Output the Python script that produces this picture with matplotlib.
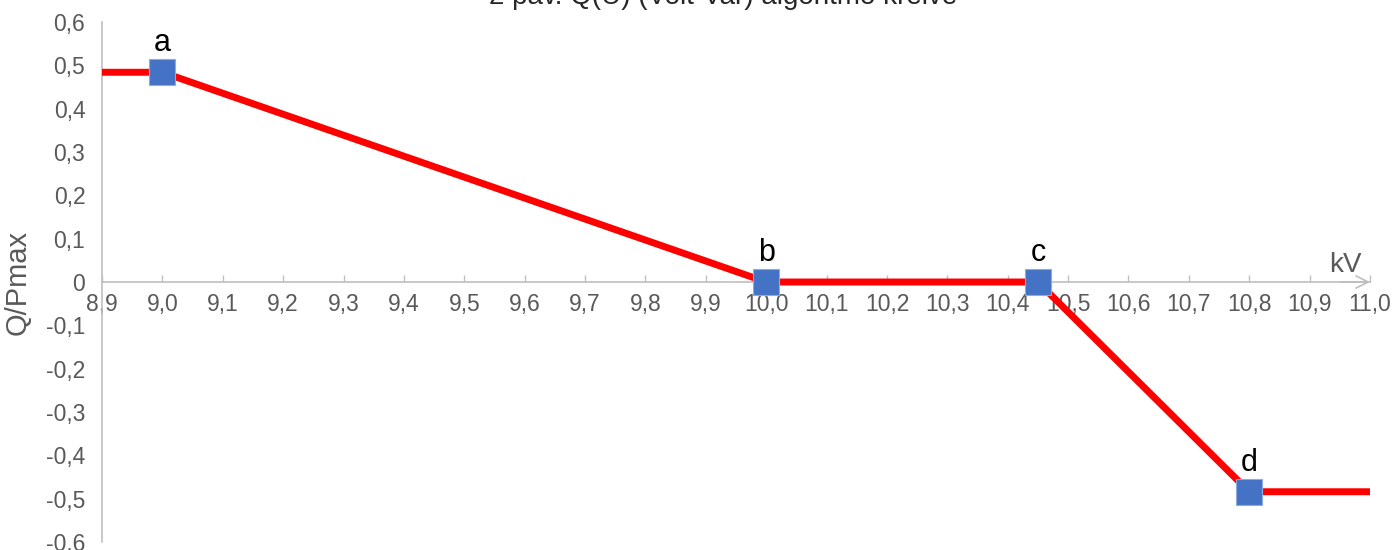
import matplotlib
matplotlib.use("Agg")
import matplotlib.pyplot as plt
from matplotlib.ticker import FixedLocator, FuncFormatter

plt.rcParams['font.family'] = ['Liberation Sans', 'DejaVu Sans']

# Data
curve_u = [8.9, 9.0, 10.0, 10.45, 10.8, 11.0]
curve_q = [0.484, 0.484, 0.0, 0.0, -0.484, -0.484]
point_u = [9.0, 10.0, 10.45, 10.8]
point_q = [0.484, 0.0, 0.0, -0.484]
point_labels = ['a', 'b', 'c', 'd']
x_ticks = [8.9, 9.0, 9.1, 9.2, 9.3, 9.4, 9.5, 9.6, 9.7, 9.8, 9.9, 10.0,
           10.1, 10.2, 10.3, 10.4, 10.5, 10.6, 10.7, 10.8, 10.9, 11.0]
y_ticks = [-0.6, -0.5, -0.4, -0.3, -0.2, -0.1, 0.0, 0.1, 0.2, 0.3, 0.4, 0.5, 0.6]
title = "2 pav. Q(U) (Volt-Var) algoritmo kreivė"

W, H = 1397, 550
fig = plt.figure(figsize=(W / 100, H / 100), dpi=100)
ax = fig.add_axes([102 / W, 1 - 542 / H, (1370 - 102) / W, 520 / H])

gray = '#595959'
axis_gray = '#BFBFBF'

ax.plot(curve_u, curve_q, color='#FF0000', lw=5, solid_capstyle='butt', zorder=3)
ax.plot(point_u, point_q, ls='none', marker='s', markersize=18.5,
        markerfacecolor='#4472C4', markeredgecolor='#8FAADC', markeredgewidth=0.8, zorder=4)
for u, q, lab in zip(point_u, point_q, point_labels):
    ax.annotate(lab, (u, q), xytext=(0, 15), textcoords='offset points',
                ha='center', va='baseline', fontsize=22, color='black', zorder=5)

ax.set_xlim(8.9, 11.0)
ax.set_ylim(-0.6, 0.6)

for s in ['top', 'right']:
    ax.spines[s].set_visible(False)
ax.spines['bottom'].set_position(('data', 0))
ax.spines['bottom'].set_color(axis_gray)
ax.spines['bottom'].set_linewidth(1.2)
ax.spines['left'].set_color(axis_gray)
ax.spines['left'].set_linewidth(1.2)

ax.xaxis.set_major_locator(FixedLocator(x_ticks))
ax.yaxis.set_major_locator(FixedLocator(y_ticks))

def comma1(v, pos):
    return f"{v:.1f}".replace('.', ',')

def ycomma(v, pos):
    if abs(v) < 1e-9:
        return "0"
    return f"{v:.1f}".replace('.', ',')

ax.xaxis.set_major_formatter(FuncFormatter(comma1))
ax.yaxis.set_major_formatter(FuncFormatter(ycomma))
ax.tick_params(axis='x', direction='in', length=5, width=1, color=axis_gray,
               labelsize=16.5, labelcolor=gray, pad=8)
ax.tick_params(axis='y', length=0, labelsize=16.5, labelcolor=gray, pad=12)

ax.annotate('', xy=(11.0, 0), xytext=(10.95, 0),
            arrowprops=dict(arrowstyle='->', color=axis_gray, lw=1.2, mutation_scale=22,
                            shrinkA=0, shrinkB=0), annotation_clip=False)
ax.text(10.96, 0.01, 'kV', fontsize=20, color=gray, ha='center', va='bottom')

fig.text(18 / W, 1 - 282 / H, 'Q/Pmax', rotation=90, ha='center', va='center',
         fontsize=21, color=gray)
fig.text(723 / W, 1 - 4 / H, title, ha='center', va='baseline', fontsize=20, color='#262626')

fig.savefig('out.png', dpi=100)
